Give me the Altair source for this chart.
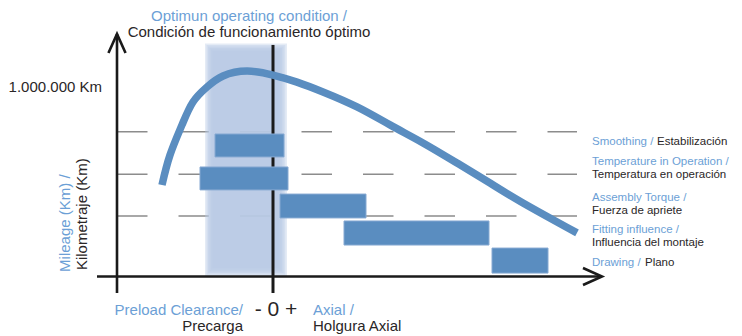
import altair as alt
import pandas as pd

# ---------------- data (x: clearance units, y: mileage in thousand km) ----------------
curve_x = [-11.1, -10.3, -9.1, -8.0, -6.6, -5.0, -2.6, 0.0, 2.4, 5.0, 8.4, 11.7, 15.0, 18.4, 21.7, 25.0, 30.4]
curve_y = [483, 641, 800, 921, 1000, 1058, 1084, 1063, 1026, 974, 895, 800, 705, 599, 493, 388, 230]

bar_names = ["Smoothing", "Temperature in Operation", "Assembly Torque", "Fitting influence", "Drawing"]
bar_x0 = [-5.8, -7.3, 0.7, 7.1, 21.9]
bar_x1 = [1.1, 1.5, 9.3, 21.6, 27.5]
bar_y0 = [631, 457, 309, 166, 18]
bar_y1 = [752, 578, 435, 293, 150]

dash_levels = [764, 539, 319]
dash_x = [-15.6, 30.4]

band_x = [-6.8, 1.4]
band_y = [0, 1230]

yaxis_x = -15.6
yaxis_y = [-87, 1280]
xaxis_x = [-17.6, 32.9]
zero_y = [-87, 1222]

title_lines = ["Optimun operating condition /", "Condición de funcionamiento óptimo"]
title_y = [1377, 1290]
title_x = -2.4

km_label = "1.000.000 Km"
km_x, km_y = -17.1, 1000

ytitle_lines = ["Mileage (Km) /", "Kilometraje (Km)"]
ytitle_x = [-20.8, -19.1]
ytitle_y = [24, 34]

right_text = ["Smoothing / ", "Estabilización",
              "Temperature in Operation /", "Temperatura en operación",
              "Assembly Torque /", "Fuerza de apriete",
              "Fitting influence /", "Influencia del montaje",
              "Drawing / ", "Plano"]
right_x = [31.9, 38.4, 31.9, 31.9, 31.9, 31.9, 31.9, 31.9, 31.9, 37.2]
right_y = [710, 710, 602, 538, 412, 346, 248, 177, 71, 71]
right_blue = [True, False, True, False, True, False, True, False, True, False]

left_bottom = ["Preload Clearance/", "Precarga"]
right_bottom = ["Axial /", "Holgura Axial"]
bottom_y = [-177, -261]
left_bottom_x = -3.0
right_bottom_x = 4.0
sign_text = "- 0 +"
sign_x, sign_y = 0.3, -177

# ---------------- style ----------------
BLUE = "#5a8dc0"
TXT_BLUE = "#6c9fd6"
TXT_DARK = "#2a2627"
AXIS = "#1a1a1a"
FONT = "Liberation Sans"

XS = alt.Scale(domain=[-26.5, 46.1], nice=False, zero=False)
YS = alt.Scale(domain=[-314.0, 1416.9], nice=False, zero=False)


def X(f="x"):
    return alt.X(f, type="quantitative", scale=XS, axis=None)


def Y(f="y"):
    return alt.Y(f, type="quantitative", scale=YS, axis=None)


layers = []

# dashed reference lines
dash_df = pd.DataFrame({"x": [dash_x[0]] * 3, "x2": [dash_x[1]] * 3, "y": dash_levels})
layers.append(alt.Chart(dash_df).mark_rule(color="#8c8c8c", strokeWidth=1.5, strokeDash=[30.5, 31])
              .encode(x=X(), x2="x2", y=Y()))

# shaded optimum band, soft edges via stacked translucent rects
band_rows = []
for i in range(6):
    band_rows.append({"x": band_x[0] + 0.15 * i, "x2": band_x[1] - 0.17 * i,
                      "y": band_y[0] + 9 * i, "y2": band_y[1] - 8 * i})
band_df = pd.DataFrame(band_rows)
layers.append(alt.Chart(band_df).mark_rect(color="#b8cbe5", opacity=0.38)
              .encode(x=X(), x2="x2", y=Y(), y2="y2"))

# zero line
layers.append(alt.Chart(pd.DataFrame({"x": [0], "y": [zero_y[0]], "y2": [zero_y[1]]}))
              .mark_rule(color=AXIS, strokeWidth=3).encode(x=X(), y=Y(), y2="y2"))

# axes
layers.append(alt.Chart(pd.DataFrame({"x": [yaxis_x], "y": [yaxis_y[0]], "y2": [yaxis_y[1]]}))
              .mark_rule(color=AXIS, strokeWidth=2.6).encode(x=X(), y=Y(), y2="y2"))
layers.append(alt.Chart(pd.DataFrame({"x": [xaxis_x[0]], "x2": [xaxis_x[1]], "y": [0]}))
              .mark_rule(color=AXIS, strokeWidth=2.6).encode(x=X(), x2="x2", y=Y()))

CHEVRON = "M-0.45,1L0,0L0.45,1"
arrow_df = pd.DataFrame({"x": [yaxis_x, xaxis_x[1]], "y": [yaxis_y[1], 0], "a": [0, 90]})
layers.append(alt.Chart(arrow_df).mark_point(shape=CHEVRON, filled=False, size=1444, strokeWidth=2.6,
                                             color=AXIS, opacity=1, strokeJoin="miter")
              .encode(x=X(), y=Y(), angle=alt.Angle("a:Q", scale=None)))

# bars
bar_df = pd.DataFrame({"name": bar_names, "x": bar_x0, "x2": bar_x1, "y": bar_y0, "y2": bar_y1})
layers.append(alt.Chart(bar_df).mark_rect(color=BLUE, stroke="#86a9d2", strokeWidth=1)
              .encode(x=X(), x2="x2", y=Y(), y2="y2"))

# curve
curve_df = pd.DataFrame({"x": curve_x, "y": curve_y})
layers.append(alt.Chart(curve_df).mark_line(color=BLUE, strokeWidth=7.5, interpolate="natural", strokeCap="butt")
              .encode(x=X(), y=Y()))


def text_layer(df, **kw):
    props = dict(font=FONT, baseline="middle")
    props.update(kw)
    return alt.Chart(df).mark_text(**props).encode(
        x=X(), y=Y(), text="t:N", color=alt.Color("c:N", scale=None))


layers.append(text_layer(pd.DataFrame({"x": [title_x] * 2, "y": title_y, "t": title_lines,
                                       "c": [TXT_BLUE, TXT_DARK]}), align="center", fontSize=15))
layers.append(text_layer(pd.DataFrame({"x": [km_x], "y": [km_y], "t": [km_label], "c": [TXT_DARK]}),
                         align="right", fontSize=15))
layers.append(text_layer(pd.DataFrame({"x": ytitle_x, "y": ytitle_y, "t": ytitle_lines,
                                       "c": [TXT_BLUE, TXT_DARK]}), align="left", angle=270, fontSize=15))
layers.append(text_layer(pd.DataFrame({"x": right_x, "y": right_y, "t": right_text,
                                       "c": [TXT_BLUE if b else TXT_DARK for b in right_blue]}),
                         align="left", fontSize=11.5))
layers.append(text_layer(pd.DataFrame({"x": [left_bottom_x] * 2, "y": bottom_y, "t": left_bottom,
                                       "c": [TXT_BLUE, TXT_DARK]}), align="right", fontSize=15))
layers.append(text_layer(pd.DataFrame({"x": [right_bottom_x] * 2, "y": bottom_y, "t": right_bottom,
                                       "c": [TXT_BLUE, TXT_DARK]}), align="left", fontSize=15))
layers.append(text_layer(pd.DataFrame({"x": [sign_x], "y": [sign_y], "t": [sign_text], "c": [TXT_DARK]}),
                         align="center", fontSize=21))

chart = alt.layer(*layers).properties(
    width=726, height=328, autosize=alt.AutoSizeParams(type="none"), padding=0
).configure_view(stroke=None)

chart.save("out.html", embed_options={"renderer": "svg", "actions": False})
